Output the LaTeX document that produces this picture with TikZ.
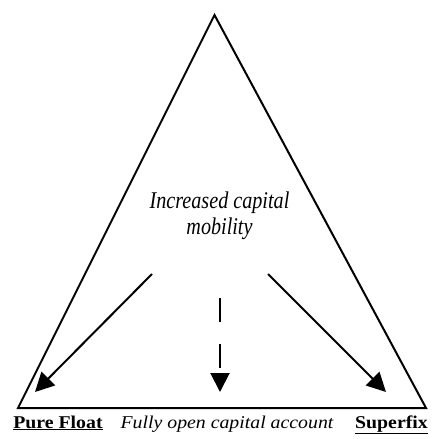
\documentclass[tikz,border=0pt]{standalone}
\usepackage{fontspec}
\setmainfont{Liberation Serif}
\usetikzlibrary{arrows.meta}
\begin{document}
\begin{tikzpicture}[x=1pt,y=-1pt,
  edge/.style={line width=2pt},
  arr/.style={line width=2pt,-{Triangle[length=19pt,width=19pt]}},
  lbl/.style={inner sep=0pt,anchor=base}]
\useasboundingbox (0,0) rectangle (433,439);
\coordinate (apex) at (214.5,15);
\coordinate (bl) at (18,408);
\coordinate (br) at (426,408);
\draw[edge,line join=miter] (apex) -- (bl) -- (br) -- cycle;
\node[lbl,align=center,font=\fontsize{24}{26}\selectfont\itshape] (title) at (219.5,234)
  {\scalebox{0.84}[1]{Increased capital}\\[0pt]\scalebox{0.84}[1]{mobility}};
\coordinate (ls) at (152,274);
\coordinate (lt) at (35,392);
\coordinate (rs) at (268,274);
\coordinate (rt) at (386,392);
\coordinate (cs) at (220,298);
\coordinate (ct) at (220,392);
\draw[arr] (ls) -- (lt);
\draw[arr] (rs) -- (rt);
\draw[arr,dash pattern=on 24pt off 22pt] (cs) -- (ct);
\node[lbl,font=\fontsize{18}{20}\selectfont\bfseries] (pf) at (58,428) {\scalebox{1.1}[1]{\underline{Pure Float}}};
\node[lbl,font=\fontsize{18}{20}\selectfont\itshape] (fo) at (227,428) {\scalebox{1.1}[1]{Fully open capital account}};
\node[lbl,font=\fontsize{18}{20}\selectfont\bfseries] (sf) at (391.5,428) {\scalebox{1.1}[1]{\underline{Superfix}}};
\end{tikzpicture}
\end{document}
